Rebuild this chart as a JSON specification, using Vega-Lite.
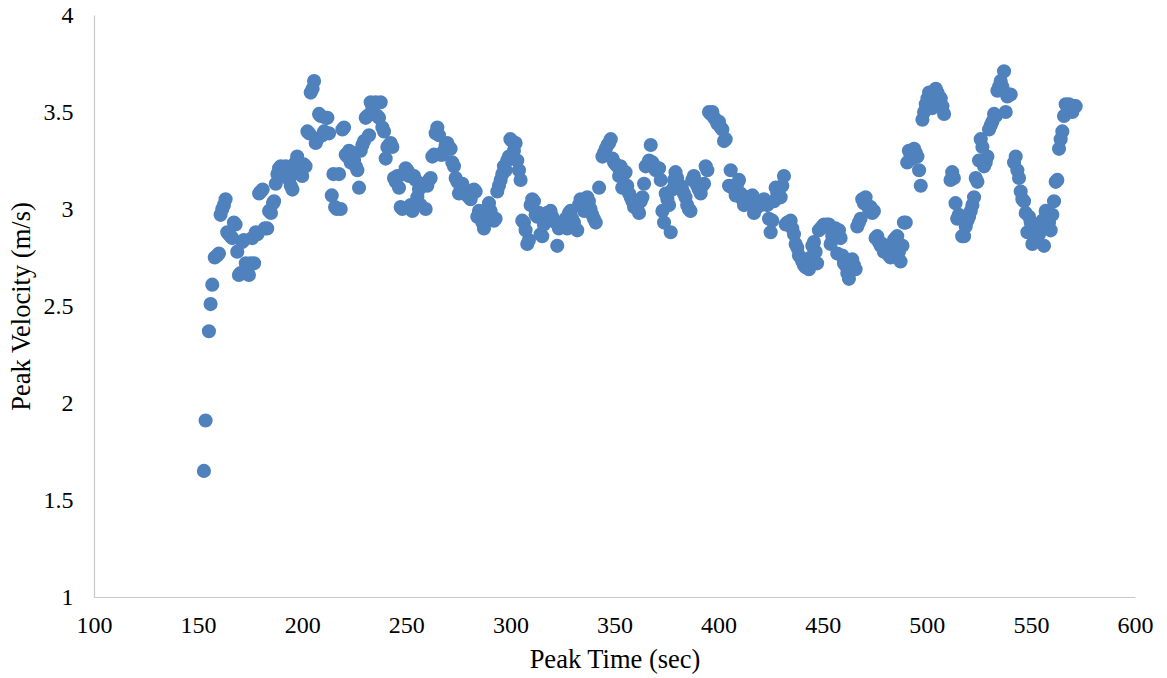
{
  "$schema": "https://vega.github.io/schema/vega-lite/v6.json",
  "width": 1041,
  "height": 582,
  "autosize": "none",
  "padding": {"left": 94, "top": 15, "right": 32, "bottom": 81},
  "background": "white",
  "config": {"view": {"stroke": null}, "font": "Liberation Serif"},
  "data": {"values": [
{"t":152.8,"v":1.65},{"t":153.6,"v":1.91},{"t":155.2,"v":2.37},{"t":156.0,"v":2.51},{"t":156.8,"v":2.61},{"t":158.0,"v":2.75},{"t":159.2,"v":2.76},{"t":160.0,"v":2.77},{"t":160.8,"v":2.97},{"t":161.6,"v":3.0},{"t":162.4,"v":3.02},{"t":163.2,"v":3.05},{"t":164.0,"v":2.88},{"t":164.8,"v":2.87},{"t":165.6,"v":2.86},{"t":166.4,"v":2.85},{"t":167.2,"v":2.93},{"t":168.0,"v":2.92},{"t":168.8,"v":2.78},{"t":169.6,"v":2.66},{"t":170.4,"v":2.67},{"t":171.2,"v":2.83},{"t":172.0,"v":2.84},{"t":172.9,"v":2.72},{"t":173.6,"v":2.7},{"t":174.4,"v":2.66},{"t":175.2,"v":2.72},{"t":176.0,"v":2.85},{"t":176.9,"v":2.72},{"t":177.7,"v":2.88},{"t":178.5,"v":2.87},{"t":179.3,"v":3.08},{"t":180.1,"v":3.09},{"t":181.0,"v":3.1},{"t":182.0,"v":2.9},{"t":183.2,"v":2.9},{"t":184.1,"v":2.99},{"t":185.0,"v":2.98},{"t":186.0,"v":3.03},{"t":186.5,"v":3.04},{"t":187.3,"v":3.13},{"t":188.1,"v":3.18},{"t":188.9,"v":3.21},{"t":189.7,"v":3.22},{"t":190.5,"v":3.2},{"t":191.3,"v":3.17},{"t":192.1,"v":3.22},{"t":193.0,"v":3.18},{"t":193.8,"v":3.15},{"t":194.5,"v":3.12},{"t":195.3,"v":3.1},{"t":196.0,"v":3.19},{"t":196.8,"v":3.24},{"t":197.6,"v":3.27},{"t":198.4,"v":3.22},{"t":199.2,"v":3.19},{"t":200.0,"v":3.17},{"t":200.8,"v":3.23},{"t":201.6,"v":3.22},{"t":202.5,"v":3.4},{"t":203.3,"v":3.39},{"t":204.1,"v":3.6},{"t":205.0,"v":3.62},{"t":205.7,"v":3.66},{"t":206.5,"v":3.34},{"t":207.3,"v":3.36},{"t":208.1,"v":3.49},{"t":208.9,"v":3.48},{"t":209.7,"v":3.38},{"t":210.5,"v":3.4},{"t":211.3,"v":3.47},{"t":212.1,"v":3.47},{"t":212.9,"v":3.39},{"t":214.2,"v":3.07},{"t":215.0,"v":3.18},{"t":215.8,"v":3.01},{"t":216.6,"v":3.0},{"t":217.7,"v":3.18},{"t":218.5,"v":3.0},{"t":219.3,"v":3.41},{"t":220.1,"v":3.42},{"t":220.9,"v":3.28},{"t":221.7,"v":3.27},{"t":222.5,"v":3.3},{"t":223.3,"v":3.24},{"t":224.1,"v":3.29},{"t":224.9,"v":3.25},{"t":225.7,"v":3.22},{"t":226.5,"v":3.2},{"t":227.3,"v":3.11},{"t":228.1,"v":3.3},{"t":228.9,"v":3.33},{"t":229.7,"v":3.35},{"t":230.5,"v":3.47},{"t":231.3,"v":3.48},{"t":232.1,"v":3.38},{"t":232.9,"v":3.55},{"t":233.7,"v":3.52},{"t":234.5,"v":3.49},{"t":235.3,"v":3.55},{"t":236.1,"v":3.48},{"t":236.9,"v":3.47},{"t":237.7,"v":3.55},{"t":238.5,"v":3.42},{"t":239.3,"v":3.4},{"t":240.1,"v":3.26},{"t":240.9,"v":3.32},{"t":241.7,"v":3.33},{"t":242.5,"v":3.34},{"t":243.3,"v":3.32},{"t":244.1,"v":3.16},{"t":244.9,"v":3.14},{"t":245.7,"v":3.17},{"t":246.5,"v":3.11},{"t":247.3,"v":3.01},{"t":248.1,"v":3.0},{"t":248.9,"v":3.18},{"t":249.7,"v":3.21},{"t":250.5,"v":3.2},{"t":251.3,"v":3.17},{"t":252.1,"v":3.02},{"t":252.9,"v":2.99},{"t":253.7,"v":3.17},{"t":254.5,"v":3.15},{"t":255.3,"v":3.06},{"t":256.1,"v":3.1},{"t":256.9,"v":3.02},{"t":257.7,"v":3.12},{"t":258.5,"v":3.13},{"t":259.3,"v":3.0},{"t":260.1,"v":3.12},{"t":260.9,"v":3.15},{"t":261.7,"v":3.16},{"t":262.5,"v":3.27},{"t":263.3,"v":3.28},{"t":264.1,"v":3.39},{"t":264.9,"v":3.42},{"t":265.7,"v":3.38},{"t":266.5,"v":3.28},{"t":267.3,"v":3.28},{"t":268.1,"v":3.3},{"t":268.9,"v":3.33},{"t":269.7,"v":3.34},{"t":270.5,"v":3.32},{"t":271.3,"v":3.31},{"t":272.1,"v":3.24},{"t":272.9,"v":3.22},{"t":273.7,"v":3.16},{"t":274.5,"v":3.14},{"t":275.3,"v":3.08},{"t":276.1,"v":3.11},{"t":276.9,"v":3.13},{"t":277.7,"v":3.1},{"t":278.5,"v":3.08},{"t":279.3,"v":3.07},{"t":280.1,"v":3.06},{"t":280.9,"v":3.05},{"t":281.7,"v":3.08},{"t":282.5,"v":3.1},{"t":283.3,"v":3.09},{"t":284.1,"v":2.96},{"t":284.9,"v":2.99},{"t":285.7,"v":2.97},{"t":286.5,"v":2.93},{"t":287.3,"v":2.9},{"t":288.1,"v":2.97},{"t":288.9,"v":3.0},{"t":289.7,"v":3.03},{"t":290.5,"v":2.99},{"t":291.3,"v":2.96},{"t":292.1,"v":2.94},{"t":292.9,"v":2.95},{"t":293.7,"v":3.09},{"t":294.5,"v":3.12},{"t":295.3,"v":3.15},{"t":296.1,"v":3.18},{"t":296.9,"v":3.22},{"t":297.7,"v":3.2},{"t":298.5,"v":3.25},{"t":299.3,"v":3.27},{"t":300.0,"v":3.36},{"t":300.8,"v":3.35},{"t":301.7,"v":3.3},{"t":302.5,"v":3.34},{"t":303.3,"v":3.25},{"t":304.1,"v":3.2},{"t":304.9,"v":3.15},{"t":305.7,"v":2.94},{"t":306.5,"v":2.93},{"t":307.3,"v":2.89},{"t":308.1,"v":2.82},{"t":308.9,"v":2.84},{"t":309.7,"v":3.02},{"t":310.5,"v":3.05},{"t":311.3,"v":3.04},{"t":312.1,"v":2.97},{"t":312.9,"v":2.96},{"t":313.7,"v":2.98},{"t":314.5,"v":2.87},{"t":315.3,"v":2.86},{"t":316.1,"v":2.92},{"t":316.9,"v":2.96},{"t":317.7,"v":2.98},{"t":318.5,"v":2.97},{"t":319.3,"v":2.99},{"t":320.1,"v":2.96},{"t":320.9,"v":2.94},{"t":321.7,"v":2.93},{"t":322.5,"v":2.81},{"t":323.3,"v":2.9},{"t":324.1,"v":2.92},{"t":324.9,"v":2.91},{"t":325.7,"v":2.93},{"t":326.5,"v":2.95},{"t":327.3,"v":2.9},{"t":328.1,"v":2.98},{"t":328.9,"v":2.99},{"t":329.7,"v":2.95},{"t":330.5,"v":2.93},{"t":331.3,"v":2.9},{"t":332.1,"v":2.89},{"t":332.9,"v":3.02},{"t":333.7,"v":3.05},{"t":334.5,"v":3.03},{"t":335.4,"v":2.99},{"t":336.2,"v":3.02},{"t":336.9,"v":3.06},{"t":337.7,"v":3.04},{"t":338.5,"v":3.0},{"t":339.3,"v":2.97},{"t":340.1,"v":2.95},{"t":341.0,"v":2.93},{"t":342.6,"v":3.11},{"t":344.2,"v":3.27},{"t":345.0,"v":3.29},{"t":345.8,"v":3.31},{"t":346.6,"v":3.33},{"t":347.4,"v":3.34},{"t":348.2,"v":3.36},{"t":349.0,"v":3.26},{"t":349.8,"v":3.24},{"t":350.6,"v":3.23},{"t":351.4,"v":3.22},{"t":352.2,"v":3.17},{"t":352.9,"v":3.22},{"t":353.7,"v":3.11},{"t":354.5,"v":3.18},{"t":355.3,"v":3.19},{"t":356.1,"v":3.12},{"t":357.0,"v":3.08},{"t":357.8,"v":3.06},{"t":358.6,"v":3.04},{"t":359.4,"v":3.01},{"t":360.2,"v":3.03},{"t":361.0,"v":3.0},{"t":361.8,"v":2.98},{"t":362.6,"v":3.04},{"t":363.4,"v":3.06},{"t":364.2,"v":3.13},{"t":365.0,"v":3.22},{"t":365.8,"v":3.23},{"t":366.6,"v":3.25},{"t":367.4,"v":3.33},{"t":368.2,"v":3.24},{"t":369.0,"v":3.22},{"t":369.8,"v":3.2},{"t":370.6,"v":3.21},{"t":371.4,"v":3.21},{"t":372.2,"v":3.15},{"t":373.0,"v":2.99},{"t":373.8,"v":2.93},{"t":374.6,"v":3.08},{"t":375.4,"v":3.05},{"t":376.2,"v":3.02},{"t":377.0,"v":2.88},{"t":377.8,"v":3.1},{"t":378.6,"v":3.15},{"t":379.3,"v":3.19},{"t":380.1,"v":3.16},{"t":380.9,"v":3.11},{"t":381.7,"v":3.12},{"t":382.5,"v":3.1},{"t":383.3,"v":3.08},{"t":384.1,"v":3.06},{"t":384.9,"v":3.02},{"t":385.7,"v":3.0},{"t":386.5,"v":2.99},{"t":387.3,"v":3.15},{"t":388.1,"v":3.17},{"t":388.9,"v":3.14},{"t":389.7,"v":3.12},{"t":390.5,"v":3.1},{"t":391.4,"v":3.08},{"t":392.2,"v":3.12},{"t":393.0,"v":3.13},{"t":393.8,"v":3.22},{"t":394.6,"v":3.2},{"t":395.4,"v":3.5},{"t":396.2,"v":3.49},{"t":397.0,"v":3.5},{"t":397.8,"v":3.47},{"t":398.6,"v":3.46},{"t":399.4,"v":3.44},{"t":400.2,"v":3.45},{"t":401.0,"v":3.42},{"t":401.8,"v":3.41},{"t":402.6,"v":3.35},{"t":403.4,"v":3.36},{"t":405.0,"v":3.12},{"t":405.8,"v":3.2},{"t":406.6,"v":3.11},{"t":407.4,"v":3.12},{"t":408.2,"v":3.07},{"t":409.0,"v":3.13},{"t":409.8,"v":3.15},{"t":410.6,"v":3.08},{"t":411.4,"v":3.05},{"t":412.2,"v":3.02},{"t":413.0,"v":3.04},{"t":413.8,"v":3.06},{"t":414.6,"v":3.05},{"t":415.4,"v":3.03},{"t":416.2,"v":3.07},{"t":417.0,"v":2.98},{"t":417.8,"v":3.0},{"t":418.6,"v":3.03},{"t":419.4,"v":3.04},{"t":420.2,"v":3.02},{"t":421.0,"v":3.03},{"t":421.8,"v":3.05},{"t":422.6,"v":3.03},{"t":423.4,"v":3.02},{"t":424.2,"v":2.95},{"t":425.0,"v":2.88},{"t":425.8,"v":2.94},{"t":426.6,"v":3.04},{"t":427.4,"v":3.11},{"t":428.2,"v":3.08},{"t":429.0,"v":3.07},{"t":429.8,"v":3.06},{"t":430.6,"v":3.12},{"t":431.4,"v":3.17},{"t":432.2,"v":2.92},{"t":433.0,"v":2.93},{"t":433.8,"v":2.92},{"t":434.6,"v":2.94},{"t":435.4,"v":2.9},{"t":436.2,"v":2.87},{"t":437.0,"v":2.82},{"t":437.8,"v":2.8},{"t":438.6,"v":2.76},{"t":439.4,"v":2.75},{"t":440.2,"v":2.73},{"t":441.0,"v":2.71},{"t":441.8,"v":2.7},{"t":442.6,"v":2.7},{"t":443.4,"v":2.69},{"t":444.2,"v":2.75},{"t":445.0,"v":2.81},{"t":445.8,"v":2.83},{"t":446.6,"v":2.78},{"t":447.3,"v":2.72},{"t":448.2,"v":2.89},{"t":449.0,"v":2.9},{"t":449.8,"v":2.91},{"t":450.6,"v":2.92},{"t":451.4,"v":2.91},{"t":452.2,"v":2.92},{"t":453.0,"v":2.92},{"t":453.8,"v":2.82},{"t":454.6,"v":2.86},{"t":455.4,"v":2.89},{"t":456.2,"v":2.9},{"t":457.0,"v":2.77},{"t":457.8,"v":2.89},{"t":458.6,"v":2.85},{"t":459.4,"v":2.76},{"t":460.2,"v":2.72},{"t":461.0,"v":2.71},{"t":461.8,"v":2.67},{"t":462.6,"v":2.64},{"t":463.4,"v":2.7},{"t":464.2,"v":2.74},{"t":465.0,"v":2.71},{"t":465.8,"v":2.69},{"t":466.6,"v":2.91},{"t":467.4,"v":2.93},{"t":468.2,"v":2.95},{"t":469.0,"v":3.05},{"t":469.8,"v":3.03},{"t":470.6,"v":3.06},{"t":471.4,"v":3.02},{"t":472.2,"v":3.0},{"t":473.0,"v":3.01},{"t":473.8,"v":2.98},{"t":474.6,"v":2.99},{"t":475.4,"v":2.85},{"t":476.2,"v":2.86},{"t":477.0,"v":2.83},{"t":477.8,"v":2.81},{"t":478.6,"v":2.82},{"t":479.4,"v":2.78},{"t":480.2,"v":2.8},{"t":481.0,"v":2.79},{"t":481.8,"v":2.76},{"t":482.6,"v":2.75},{"t":483.4,"v":2.8},{"t":484.2,"v":2.84},{"t":485.0,"v":2.85},{"t":485.8,"v":2.86},{"t":486.6,"v":2.78},{"t":487.4,"v":2.73},{"t":488.3,"v":2.81},{"t":489.0,"v":2.93},{"t":489.9,"v":2.93},{"t":490.6,"v":3.24},{"t":491.4,"v":3.3},{"t":492.2,"v":3.28},{"t":493.0,"v":3.26},{"t":493.9,"v":3.31},{"t":494.7,"v":3.29},{"t":495.5,"v":3.27},{"t":496.3,"v":3.2},{"t":497.1,"v":3.12},{"t":497.9,"v":3.46},{"t":498.7,"v":3.5},{"t":499.5,"v":3.54},{"t":500.3,"v":3.57},{"t":501.1,"v":3.6},{"t":501.9,"v":3.58},{"t":502.7,"v":3.52},{"t":503.5,"v":3.59},{"t":504.3,"v":3.62},{"t":505.1,"v":3.6},{"t":505.9,"v":3.58},{"t":506.7,"v":3.57},{"t":507.5,"v":3.53},{"t":508.3,"v":3.49},{"t":511.4,"v":3.15},{"t":512.2,"v":3.19},{"t":513.0,"v":3.16},{"t":513.8,"v":3.03},{"t":514.6,"v":2.95},{"t":515.4,"v":2.97},{"t":516.2,"v":2.96},{"t":517.0,"v":2.86},{"t":517.9,"v":2.86},{"t":518.7,"v":2.91},{"t":519.5,"v":2.94},{"t":520.3,"v":2.96},{"t":521.1,"v":2.99},{"t":521.9,"v":3.02},{"t":522.7,"v":3.06},{"t":523.5,"v":3.16},{"t":524.3,"v":3.14},{"t":525.1,"v":3.25},{"t":525.9,"v":3.36},{"t":526.7,"v":3.32},{"t":527.5,"v":3.22},{"t":528.3,"v":3.24},{"t":529.1,"v":3.27},{"t":529.9,"v":3.41},{"t":530.7,"v":3.43},{"t":531.5,"v":3.45},{"t":532.3,"v":3.49},{"t":533.1,"v":3.48},{"t":533.9,"v":3.61},{"t":534.7,"v":3.63},{"t":535.5,"v":3.66},{"t":536.3,"v":3.63},{"t":537.1,"v":3.71},{"t":537.9,"v":3.5},{"t":538.7,"v":3.58},{"t":539.5,"v":3.59},{"t":540.3,"v":3.59},{"t":541.9,"v":3.24},{"t":542.7,"v":3.27},{"t":543.5,"v":3.2},{"t":544.3,"v":3.16},{"t":545.1,"v":3.09},{"t":545.9,"v":3.05},{"t":546.7,"v":3.04},{"t":547.5,"v":2.98},{"t":548.3,"v":2.88},{"t":549.1,"v":2.96},{"t":549.9,"v":2.93},{"t":550.7,"v":2.82},{"t":551.5,"v":2.86},{"t":552.3,"v":2.88},{"t":553.1,"v":2.84},{"t":553.9,"v":2.87},{"t":554.7,"v":2.9},{"t":555.5,"v":2.94},{"t":556.3,"v":2.81},{"t":557.1,"v":2.99},{"t":557.9,"v":2.97},{"t":558.7,"v":2.93},{"t":559.5,"v":2.89},{"t":560.3,"v":2.97},{"t":561.1,"v":3.04},{"t":561.9,"v":3.14},{"t":562.7,"v":3.15},{"t":563.5,"v":3.31},{"t":564.3,"v":3.36},{"t":565.1,"v":3.4},{"t":565.9,"v":3.48},{"t":566.7,"v":3.54},{"t":567.5,"v":3.53},{"t":568.3,"v":3.54},{"t":569.1,"v":3.52},{"t":569.9,"v":3.5},{"t":570.7,"v":3.53},{"t":571.5,"v":3.53}
  ]},
  "mark": {"type": "circle", "size": 200, "color": "#4f81bd", "opacity": 1},
  "encoding": {
    "x": {"field": "t", "type": "quantitative", "title": "Peak Time (sec)",
      "scale": {"domain": [100, 600], "nice": false, "zero": false},
      "axis": {"values": [100,150,200,250,300,350,400,450,500,550,600], "format": "d", "labelFlush": false, "labelOverlap": false, "grid": false, "ticks": false, "domainColor": "#c8c8c8", "domainWidth": 1.2,
        "labelFont": "Liberation Serif", "labelFontSize": 24, "labelColor": "#000000", "labelPadding": 16,
        "titleFont": "Liberation Serif", "titleFontSize": 26.5, "titleFontWeight": "normal", "titleColor": "#000000", "titlePadding": 9}},
    "y": {"field": "v", "type": "quantitative", "title": "Peak Velocity (m/s)",
      "scale": {"domain": [1, 4], "nice": false, "zero": false},
      "axis": {"values": [1,1.5,2,2.5,3,3.5,4], "format": "~f", "labelFlush": false, "labelOverlap": false, "grid": false, "ticks": false, "domainColor": "#c8c8c8", "domainWidth": 1.2,
        "labelFont": "Liberation Serif", "labelFontSize": 24, "labelColor": "#000000", "labelPadding": 21,
        "titleFont": "Liberation Serif", "titleFontSize": 26.5, "titleFontWeight": "normal", "titleColor": "#000000", "titlePadding": 8}}
  }
}
